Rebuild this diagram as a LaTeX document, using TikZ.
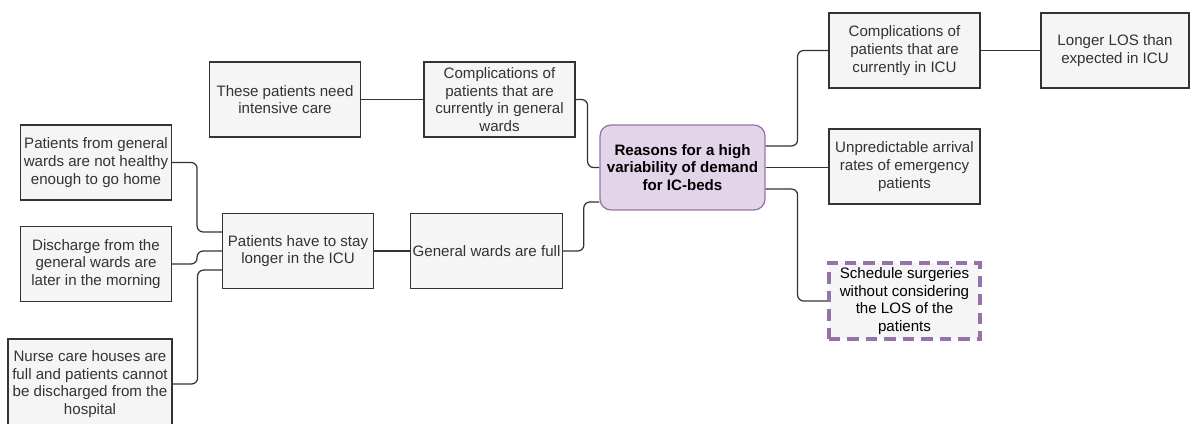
\documentclass[tikz,border=0pt]{standalone}
\usepackage{fontspec}
\setmainfont{Liberation Sans}
\usetikzlibrary{calc}

\definecolor{boxfill}{HTML}{F5F5F5}
\definecolor{boxline}{HTML}{333333}
\definecolor{rootfill}{HTML}{E1D5E7}
\definecolor{rootline}{HTML}{9673A6}

\tikzset{
    box/.style={draw=boxline, line width=0.7pt, fill=boxfill, text=boxline,
        align=center, inner sep=1pt, minimum width=3.02cm, minimum height=1.5cm,
        font=\fontsize{8.6}{10.1}\selectfont},
    link/.style={draw=boxline, line width=0.7pt, rounded corners=0.12cm},
}

\begin{document}
\begin{tikzpicture}[x=0.02cm, y=-0.02cm]
    \useasboundingbox (0, 0) rectangle (1190, 423);

    \node[box, rounded corners=0.22cm, fill=rootfill, draw=rootline, text=black,
        minimum width=3.3cm, minimum height=1.7cm,
        font=\fontsize{8.6}{10.1}\selectfont\bfseries] (root) at (682.5, 167.5)
        {Reasons for a high\\variability of demand\\for IC-beds};

    \node[box] (icu) at (904.5, 50.5) {Complications of\\patients that are\\currently in ICU};
    \node[box, minimum width=2.96cm] (los) at (1115, 50.5) {Longer LOS than\\expected in ICU};
    \node[box] (arrival) at (904.5, 166.5) {Unpredictable arrival\\rates of emergency\\patients};
    \node[box, draw=rootline, line width=1.8pt, dash pattern=on 6.5pt off 4pt, text=black,
        minimum height=1.52cm] (schedule) at (904.5, 301)
        {Schedule surgeries\\without considering\\the LOS of the\\patients};

    \node[box] (compgen) at (499.5, 99.5) {Complications of\\patients that are\\currently in general\\wards};
    \node[box] (needic) at (285, 99.5) {These patients need\\intensive care};
    \node[box] (wardsfull) at (486.5, 251) {General wards are full};
    \node[box] (stay) at (298, 251) {Patients have to stay\\longer in the ICU};

    \node[box] (nothealthy) at (96, 162.5) {Patients from general\\wards are not healthy\\enough to go home};
    \node[box] (discharge) at (96, 264) {Discharge from the\\general wards are\\later in the morning};
    \node[box, minimum width=3.28cm, minimum height=1.8cm] (nursing) at (90, 384)
        {Nurse care houses are\\full and patients cannot\\be discharged from the\\hospital};

    % right side
    \draw[link] ($(root.north east)!.25!(root.south east)$) -- ++(32, 0) |- (icu.west);
    \draw[link] (root.east) -- (root.east -| arrival.west);
    \draw[link] ($(root.north east)!.75!(root.south east)$) -- ++(32, 0) |- (schedule.west);
    \draw[link] (icu.east) -- (los.west);

    % left side
    \draw[link] (compgen.east) -- ++(12, 0) |- (root.west);
    \draw[link] (wardsfull.east) -- ++(21, 0) |- ($(root.north west)!.9!(root.south west)$);
    \draw[link] (needic.east) -- (compgen.west);
    \draw[link] (stay.east) -- (wardsfull.west);

    \draw[link] (nothealthy.east) -- ++(25, 0) |- ($(stay.north west)!.25!(stay.south west)$);
    \draw[link] (discharge.east) -- ++(25, 0) |- (stay.west);
    \draw[link] (nursing.east) -- ++(25, 0) |- ($(stay.north west)!.75!(stay.south west)$);
\end{tikzpicture}
\end{document}
